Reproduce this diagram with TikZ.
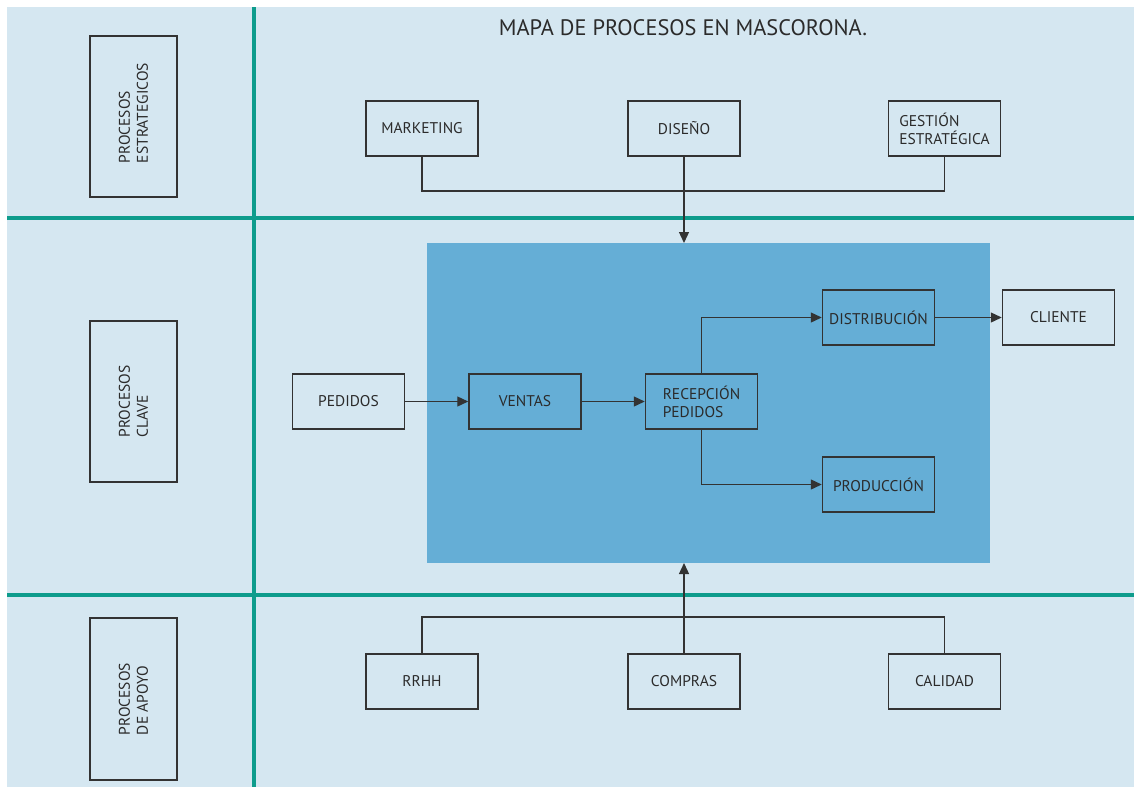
\documentclass[tikz,border=0pt]{standalone}
\usepackage{fontspec}
\setmainfont{PT Sans}
\usetikzlibrary{arrows.meta}
\definecolor{bgblue}{HTML}{D5E7F1}
\definecolor{teal}{HTML}{0E9C8C}
\definecolor{midblue}{HTML}{65AED6}
\definecolor{boxline}{HTML}{333333}
\definecolor{txt}{HTML}{2B2B2B}
\tikzset{
  pbox/.style={draw=boxline, line width=1.5pt, minimum width=112pt, minimum height=55pt, inner sep=0pt, text=txt, font=\fontsize{15.5}{18}\selectfont, align=center},
  sidebox/.style={draw=boxline, line width=1.5pt, minimum width=87pt, minimum height=161pt, inner sep=0pt},
  sidetext/.style={rotate=90, text=txt, font=\fontsize{15.5}{18}\selectfont, align=left, inner sep=0pt},
  conn/.style={draw=boxline, line width=1.3pt},
  arr/.style={conn, -{Triangle[length=11pt,width=10pt]}},
  sep/.style={draw=teal, line width=3.5pt}
}
\begin{document}
\begin{tikzpicture}[x=1pt,y=-1pt]
\useasboundingbox (0,0) rectangle (1134,787);
\fill[white] (0,0) rectangle (1134,787);
\fill[bgblue] (7,7) rectangle (1134,787);
% separators
\draw[sep] (254,7) -- (254,787);
\draw[sep] (7,218) -- (1134,218);
\draw[sep] (7,595) -- (1134,595);
% central area
\fill[midblue] (427,243) rectangle (990,563);
\coordinate (areatop) at (684,243);
\coordinate (areabot) at (684,563);
% title
\node[text=txt, font=\fontsize{22.4}{26}\selectfont, inner sep=0pt] (title) at (683,28) {MAPA DE PROCESOS EN MASCORONA.};
% side boxes
\node[sidebox] (s1) at (133.5,116.5) {};
\node[sidetext] (s1t) at (133.5,113) {PROCESOS\\ESTRATEGICOS};
\node[sidebox] (s2) at (133.5,401.5) {};
\node[sidetext] (s2t) at (133.5,401.5) {PROCESOS\\CLAVE};
\node[sidebox, minimum height=162pt] (s3) at (133.5,699) {};
\node[sidetext] (s3t) at (133.5,699) {PROCESOS\\DE APOYO};
% strategic
\node[pbox] (mk) at (422,128.5) {MARKETING};
\node[pbox] (dis) at (684,128.5) {DISEÑO};
\node[pbox, align=left] (ges) at (944.5,128.5) {GESTIÓN\\ESTRATÉGICA};
\draw[conn] (mk.south) -- (422,191) -- (944.5,191) -- (ges.south);
\draw[arr] (dis.south) -- (areatop);
% key processes
\node[pbox] (ped) at (348.5,401.5) {PEDIDOS};
\node[pbox] (ven) at (525,401.5) {VENTAS};
\node[pbox, align=left] (rec) at (701.5,401.5) {RECEPCIÓN\\PEDIDOS};
\node[pbox] (dist) at (878.5,317.5) {DISTRIBUCIÓN};
\node[pbox] (prod) at (878.5,484.5) {PRODUCCIÓN};
\node[pbox] (cli) at (1058.5,317.5) {CLIENTE};
\draw[arr] (ped) -- (ven);
\draw[arr] (ven) -- (rec);
\draw[arr] (rec.north) |- (dist.west);
\draw[arr] (rec.south) |- (prod.west);
\draw[arr] (dist) -- (cli);
% support
\node[pbox] (rrhh) at (422,681.5) {RRHH};
\node[pbox] (comp) at (684,681.5) {COMPRAS};
\node[pbox] (cal) at (944.5,681.5) {CALIDAD};
\draw[conn] (rrhh.north) -- (422,617) -- (944.5,617) -- (cal.north);
\draw[arr] (comp.north) -- (areabot);
\end{tikzpicture}
\end{document}
